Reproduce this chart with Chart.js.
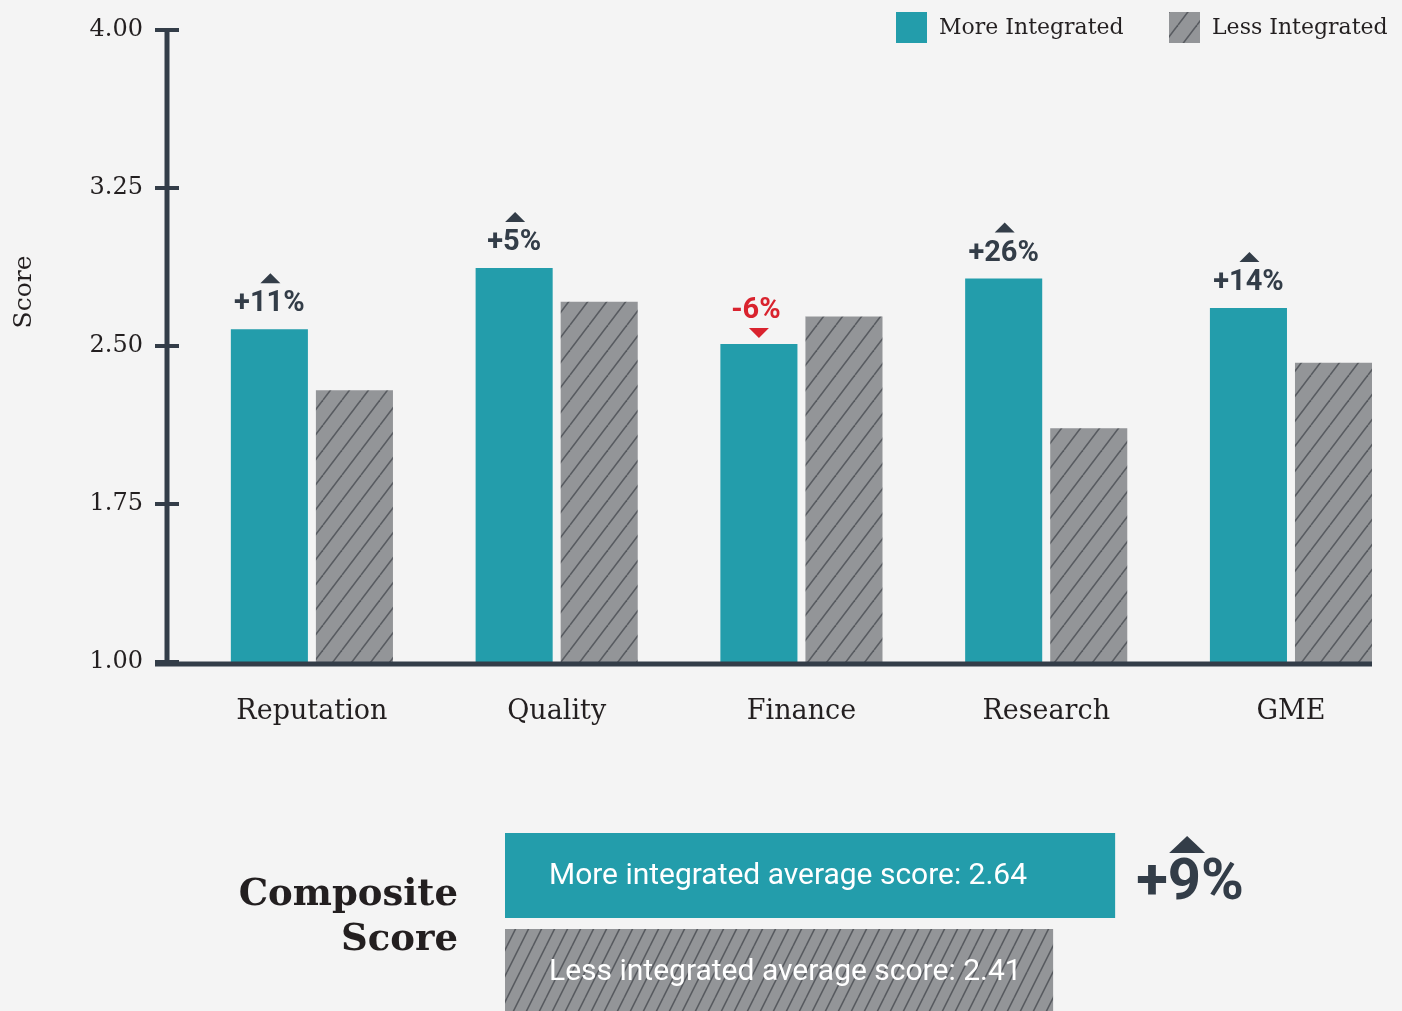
<!DOCTYPE html>
<html>
<head>
<meta charset="utf-8">
<script src="https://cdn.jsdelivr.net/npm/chart.js@4.4.0/dist/chart.umd.min.js"></script>
<style>
html, body { margin:0; padding:0; background:#f4f4f4; overflow:hidden; width:1402px; height:1011px; }
#mainChart { position:absolute; left:0; top:0; }
#compositeChart { position:absolute; left:0; top:790px; }
</style>
</head>
<body>
<canvas id="mainChart" width="1402" height="780"></canvas>
<canvas id="compositeChart" width="1402" height="240"></canvas>
<script>
// === DATA ===
const categories = ['Reputation', 'Quality', 'Finance', 'Research', 'GME'];
const moreScores = [2.58, 2.87, 2.51, 2.82, 2.68];
const lessScores = [2.29, 2.71, 2.64, 2.11, 2.42];
const changeLabels = ['+11%', '+5%', '-6%', '+26%', '+14%'];
const seriesNames = ['More Integrated', 'Less Integrated'];
const yTicks = [1.00, 1.75, 2.50, 3.25, 4.00];

const compositeNames = ['More integrated average score', 'Less integrated average score'];
const compositeScores = [2.64, 2.41];
const compositeChange = '+9%';
const compositeTitle = ['Composite', 'Score'];

// === STYLE ===
const TEAL = '#239dab';
const GRAY = '#939598';
const HATCH_LINE = '#585b60';
const DARK = '#333d48';
const RED = '#d9232e';
const TEXT = '#231f20';
const SERIF = '"DejaVu Serif", serif';
const SANS = 'Roboto, sans-serif';

// diagonal hatch fill, one tile per stripe
function makeHatch(ctx, w, h){
    const c = document.createElement('canvas');
    c.width = w; c.height = h;
    const x = c.getContext('2d');
    x.fillStyle = GRAY;
    x.fillRect(0, 0, w, h);
    x.strokeStyle = HATCH_LINE;
    x.lineWidth = 1.6;
    [-w, 0, w].forEach(o => {
        x.beginPath(); x.moveTo(o, h); x.lineTo(o + w, 0); x.stroke();
    });
    return ctx.createPattern(c, 'repeat');
}

function triangle(ctx, cx, apexY, baseY, half){
    ctx.beginPath();
    ctx.moveTo(cx, apexY);
    ctx.lineTo(cx + half, baseY);
    ctx.lineTo(cx - half, baseY);
    ctx.closePath();
    ctx.fill();
}

const mainCanvas = document.getElementById('mainChart');
const compCanvas = document.getElementById('compositeChart');
const hatchWide = makeHatch(mainCanvas.getContext('2d'), 19, 25);
const hatchFine = makeHatch(compCanvas.getContext('2d'), 13, 26);

// === MAIN CHART PLUGINS ===
const axisPlugin = {
    id: 'axes',
    afterDatasetsDraw(chart){
        const {ctx, chartArea: a, scales: {y}} = chart;
        ctx.save();
        ctx.strokeStyle = DARK;
        ctx.lineWidth = 5;
        ctx.beginPath();
        ctx.moveTo(a.left, y.getPixelForValue(y.max) - 2);
        ctx.lineTo(a.left, a.bottom + 2);
        ctx.stroke();
        ctx.beginPath();
        ctx.moveTo(a.left - 12, a.bottom + 2);
        ctx.lineTo(a.right, a.bottom + 2);
        ctx.stroke();
        ctx.lineWidth = 4;
        y.ticks.forEach(t => {
            const py = y.getPixelForValue(t.value);
            ctx.beginPath(); ctx.moveTo(a.left - 12, py); ctx.lineTo(a.left + 12, py); ctx.stroke();
        });
        ctx.restore();
    }
};

const changePlugin = {
    id: 'changes',
    afterDatasetsDraw(chart){
        const ctx = chart.ctx;
        ctx.save();
        ctx.font = 'bold 29px ' + SANS;
        ctx.textAlign = 'center';
        ctx.textBaseline = 'middle';
        chart.getDatasetMeta(0).data.forEach((bar, i) => {
            const label = changeLabels[i];
            if(label.startsWith('-')){
                ctx.fillStyle = RED;
                ctx.fillText(label, bar.x - 3, bar.y - 33);
                triangle(ctx, bar.x, bar.y - 6, bar.y - 16, 10);
            } else {
                ctx.fillStyle = DARK;
                const ty = bar.y - 25;
                ctx.fillText(label, bar.x, ty);
                triangle(ctx, bar.x + 1, ty - 31, ty - 21, 10);
            }
        });
        ctx.restore();
    }
};

const legendPlugin = {
    id: 'topLegend',
    afterDraw(chart){
        const ctx = chart.ctx;
        const boxes = [896, 1169];
        ctx.save();
        ctx.font = '22px ' + SERIF;
        ctx.textBaseline = 'middle';
        ctx.textAlign = 'left';
        chart.data.datasets.forEach((ds, i) => {
            ctx.fillStyle = ds.backgroundColor;
            ctx.fillRect(boxes[i], 12, 31, 31);
            ctx.fillStyle = TEXT;
            ctx.fillText(ds.label, boxes[i] + 43, 28);
        });
        ctx.restore();
    }
};

const yTitlePlugin = {
    id: 'yTitle',
    afterDraw(chart){
        const ctx = chart.ctx;
        ctx.save();
        ctx.translate(24, 292);
        ctx.rotate(-Math.PI / 2);
        ctx.font = '25px ' + SERIF;
        ctx.fillStyle = TEXT;
        ctx.textAlign = 'center';
        ctx.textBaseline = 'middle';
        ctx.fillText('Score', 0, 0);
        ctx.restore();
    }
};

// === MAIN CHART ===
const barOpts = { categoryPercentage: 0.695, barPercentage: 0.906 };
const mainChart = new Chart(mainCanvas, {
    type: 'bar',
    data: {
        datasets: [
            Object.assign({ label: seriesNames[0], data: moreScores.map((v, i) => ({x: i, y: v})), backgroundColor: TEAL }, barOpts),
            Object.assign({ label: seriesNames[1], data: lessScores.map((v, i) => ({x: i, y: v})), backgroundColor: hatchWide }, barOpts)
        ]
    },
    options: {
        responsive: false,
        animation: false,
        layout: { padding: { top: 30, right: 30, left: 0, bottom: 0 } },
        plugins: { legend: { display: false }, tooltip: { enabled: false } },
        scales: {
            x: {
                type: 'linear', min: -0.592, max: 4.331, offset: false,
                grid: { display: false, drawTicks: false }, border: { display: false },
                afterBuildTicks: s => { s.ticks = categories.map((c, i) => ({value: i})); },
                afterFit: s => { s.height = 118; },
                ticks: { padding: 34, autoSkip: false, maxRotation: 0, color: TEXT,
                    font: { family: SERIF, size: 27 }, callback: v => categories[v] }
            },
            y: {
                min: 1, max: 4,
                grid: { display: false, drawTicks: false }, border: { display: false },
                afterBuildTicks: s => { s.ticks = yTicks.map(v => ({value: v})); },
                afterFit: s => { s.width = 167; s.paddingTop = 0; s.paddingBottom = 0; },
                ticks: { padding: 24, color: TEXT, font: { family: SERIF, size: 24 },
                    callback: v => v.toFixed(2) }
            }
        }
    },
    plugins: [axisPlugin, changePlugin, legendPlugin, yTitlePlugin]
});

// === COMPOSITE CHART ===
const compositePlugin = {
    id: 'compositeText',
    afterDatasetsDraw(chart){
        const ctx = chart.ctx;
        const left = chart.chartArea.left;
        const bars = chart.getDatasetMeta(0).data;
        ctx.save();
        // text inside the bars
        ctx.fillStyle = '#ffffff';
        ctx.font = '30px ' + SANS;
        ctx.textAlign = 'left';
        ctx.textBaseline = 'middle';
        bars.forEach((bar, i) => {
            ctx.fillText(`${compositeNames[i]}: ${compositeScores[i].toFixed(2)}`, left + 44, bar.y + 1, 478);
        });
        // change badge
        const top = bars[0];
        ctx.fillStyle = DARK;
        ctx.font = 'bold 58px ' + SANS;
        ctx.fillText(compositeChange, top.x + 21, 94, 110);
        triangle(ctx, top.x + 72, 46, 63, 18);
        // title
        ctx.fillStyle = TEXT;
        ctx.font = 'bold 37px ' + SERIF;
        ctx.textAlign = 'right';
        ctx.textBaseline = 'alphabetic';
        ctx.fillText(compositeTitle[0], 458, 115);
        ctx.fillText(compositeTitle[1], 458, 160);
        ctx.restore();
    }
};

const compositeChart = new Chart(compCanvas, {
    type: 'bar',
    data: {
        labels: compositeNames,
        datasets: [{
            data: compositeScores,
            backgroundColor: [TEAL, hatchFine],
            categoryPercentage: 1,
            barPercentage: 0.885
        }]
    },
    options: {
        indexAxis: 'y',
        responsive: false,
        animation: false,
        layout: { padding: { left: 505, right: 0, top: 37.5, bottom: 10.5 } },
        plugins: { legend: { display: false }, tooltip: { enabled: false } },
        scales: {
            x: { display: false, min: 0.377, max: 3.704 },
            y: { display: false, offset: true }
        }
    },
    plugins: [compositePlugin]
});
</script>
</body>
</html>
